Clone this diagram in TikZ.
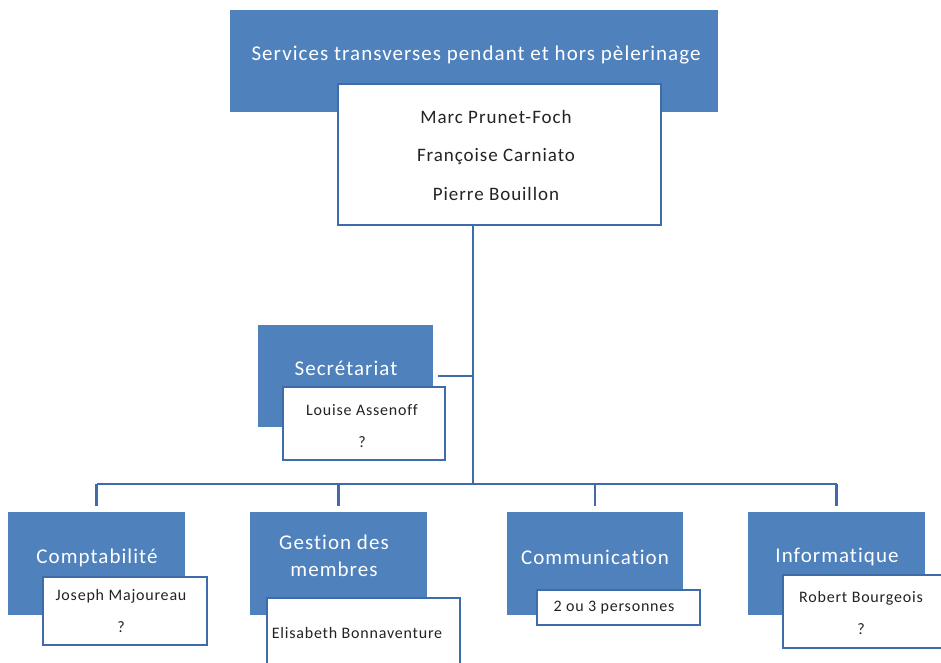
\documentclass[tikz,border=0pt]{standalone}
\usepackage{fontspec}
\setmainfont{Carlito}
\newfontfamily\spacedfont[LetterSpace=5, Ligatures=NoCommon]{Carlito}
\usetikzlibrary{positioning}
\definecolor{orgblue}{RGB}{79,129,189}
\definecolor{linkblue}{RGB}{62,108,168}
\definecolor{nameink}{RGB}{35,35,35}

\begin{document}
\begin{tikzpicture}[x=1pt, y=-1pt,
    unitbox/.style={fill=orgblue, inner sep=0pt},
    unittext/.style={text=white, font=\spacedfont\fontsize{21}{27}\selectfont, align=center},
    namebox/.style={draw=linkblue, line width=2pt, fill=white, inner sep=0pt},
    nametext/.style={text=nameink, font=\spacedfont\fontsize{16}{32}\selectfont, align=center},
    link/.style={draw=linkblue, line width=2.6pt}]
    \useasboundingbox[fill=white] (0,0) rectangle (941,662);
    \clip (0,0) rectangle (941,662);

    % Head of the services
    \node[unitbox, minimum width=488pt, minimum height=102pt] (head) at (474,61) {};
    \node[unittext] (headlabel) at (476,55) {Services transverses pendant et hors pèlerinage};
    \node[namebox, minimum width=323pt, minimum height=141pt] (headnames) at (499.5,154.5) {};
    \node[nametext, font=\spacedfont\fontsize{19}{38.5}\selectfont] at (496,155)
        {Marc Prunet-Foch\\Françoise Carniato\\Pierre Bouillon};

    % Secretariat
    \node[unitbox, minimum width=175pt, minimum height=102pt] (secr) at (345.5,376) {};
    \node[unittext] at (346,368) {Secrétariat};
    \node[namebox, minimum width=162pt, minimum height=73pt] (secrnames) at (364,423.5) {};
    \node[nametext] at (362,426) {Louise Assenoff\\?};

    % Services on the bottom row
    \node[unitbox, minimum width=177pt, minimum height=103pt] (compta) at (96.5,563.5) {};
    \node[unittext] at (97,558) {Comptabilité};
    \node[namebox, minimum width=164pt, minimum height=68pt] (comptanames) at (125,611) {};
    \node[nametext] at (121,611) {Joseph Majoureau\\?};

    \node[unitbox, minimum width=177pt, minimum height=103pt] (membres) at (338.5,563.5) {};
    \node[unittext] at (334,556) {Gestion des\\membres};
    \node[namebox, minimum width=193pt, minimum height=102pt] (membresnames) at (363.5,649) {};
    \node[nametext] at (357,633) {Elisabeth Bonnaventure};

    \node[unitbox, minimum width=176pt, minimum height=103pt] (comm) at (595,563.5) {};
    \node[unittext] at (595,557) {Communication};
    \node[namebox, minimum width=163pt, minimum height=35pt] (commnames) at (618.5,607.5) {};
    \node[nametext] at (614,608) {2 ou 3 personnes};

    \node[unitbox, minimum width=177pt, minimum height=103pt] (info) at (836.5,563.5) {};
    \node[unittext] at (837,557) {Informatique};
    \node[namebox, minimum width=170pt, minimum height=73pt] (infonames) at (868,611.5) {};
    \node[nametext] at (861,612.5) {Robert Bourgeois\\?};

    % Connectors
    \coordinate (bus) at (473,484);
    \draw[link] (headnames.south -| bus) -- (bus);
    \draw[link] ([xshift=5pt]secr.east) -- (secr.east -| bus);
    \draw[link] (compta.north |- bus) -- (info.north |- bus);
    \foreach \unit in {compta, membres, comm, info}
        \draw[link] (\unit.north |- bus) -- ([yshift=6pt]\unit.north);
\end{tikzpicture}
\end{document}
